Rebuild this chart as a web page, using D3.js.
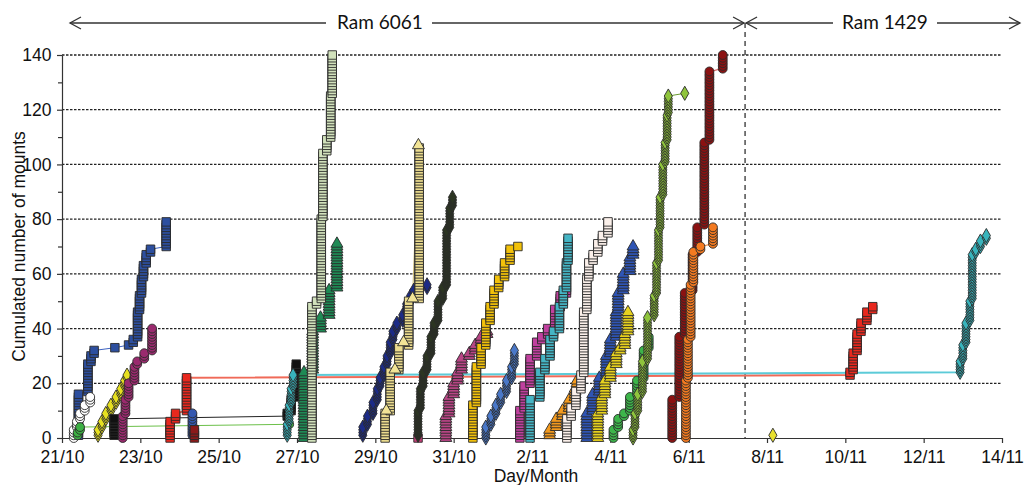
<!DOCTYPE html>
<html>
<head>
<meta charset="utf-8">
<script src="https://cdn.jsdelivr.net/npm/d3@7"></script>
<style>
body { margin: 0; background: #fff; }
svg { display: block; font-family: "Liberation Sans", Arial, sans-serif; }
</style>
</head>
<body>
<div id="chart"></div>
<script>
///// DATOS //////
// Cada tramo: [día, primera monta acumulada, última monta acumulada]; día 21 = 21/10, día 32 = 1/11
let blueSquares = [[21.42,1,16],[21.66,17,27],[21.74,28,30],[21.82,31,32],[22.35,33,33],[22.7,34,34],[22.82,35,36],[22.93,37,46],[22.98,47,52],[23.03,53,58],[23.08,59,63],[23.15,64,67],[23.26,68,69],[23.66,70,79]];
let whiteCircles = [[21.3,0,3],[21.38,4,6],[21.46,7,9],[21.58,10,12],[21.72,13,15]];
let greenCircles = [[21.4,1,2],[21.46,3,4],[26.8,5,5]];
let yellowDiamonds = [[21.92,1,3],[22.02,4,6],[22.12,7,9],[22.25,10,12],[22.38,13,15],[22.5,16,18],[22.6,19,21],[22.66,22,23]];
let blackSquares = [[22.33,1,7],[26.75,8,9],[26.85,10,14],[26.98,15,27]];
let plumCircles = [[22.55,0,8],[22.62,9,14],[22.7,15,20],[22.85,21,26],[22.92,27,28],[23.1,29,31],[23.3,32,40]];
let redSquares = [[23.76,0,6],[23.9,7,9],[24.18,10,22],[41.12,23,24],[41.2,25,31],[41.3,32,38],[41.4,39,42],[41.55,43,46],[41.7,47,48]];
let blueCircles = [[24.33,1,9]];
let darkRedSquares = [[24.38,0,3]];
let cyanDiamonds = [[26.75,1,5],[26.8,6,12],[26.85,13,18],[26.9,19,23],[43.93,24,28],[44.0,29,34],[44.08,35,42],[44.18,43,50],[44.24,51,67],[44.33,68,69],[44.45,70,72],[44.6,73,74]];
let sageSquares = [[27.38,0,48],[27.5,49,50],[27.62,51,80],[27.66,81,104],[27.76,105,109],[27.86,110,125],[27.9,126,140]];
let seaGreenTriangles = [[27.18,0,24],[27.4,25,39],[27.6,40,44],[27.82,45,54],[28.02,55,71]];
let navyDiamonds = [[28.68,1,4],[28.8,5,8],[28.94,9,13],[29.05,14,18],[29.12,19,22],[29.22,23,26],[29.3,27,30],[29.38,31,35],[29.45,36,39],[29.55,40,42],[29.7,43,45],[29.8,46,49],[29.9,50,52],[29.98,53,54],[30.32,55,56]];
let khakiSquares = [[29.25,0,9],[29.38,10,24],[29.6,25,33],[29.85,34,50],[30.12,51,106]];
let khakiTriangles = [[29.28,10,10],[29.5,25,25],[29.72,35,35],[29.95,51,51],[30.1,107,107]];
let pinkSquare = [[30.09,0,0]];
let oliveDiamonds = [[30.09,1,10],[30.15,11,18],[30.22,19,24],[30.32,25,30],[30.42,31,37],[30.5,38,42],[30.6,43,50],[30.72,51,55],[30.82,56,76],[30.9,77,84],[30.97,85,88]];
let magentaTriangles = [[30.8,0,8],[30.88,9,15],[31.0,16,20],[31.1,21,24],[31.2,25,29],[31.4,30,31],[31.55,32,34],[31.7,35,37],[31.85,38,39]];
let goldSquares = [[31.49,0,12],[31.58,13,26],[31.7,27,33],[31.82,34,42],[31.93,43,48],[32.03,49,54],[32.15,55,58],[32.3,59,64],[32.44,65,69],[32.64,70,70]];
let blueDiamonds = [[31.82,0,4],[31.95,5,8],[32.08,9,12],[32.2,13,16],[32.35,17,21],[32.48,22,26],[32.55,27,32]];
let magentaSquares = [[32.69,0,10],[32.8,11,19],[32.95,20,29],[33.12,30,35],[33.25,36,37],[33.4,38,40],[33.58,41,47],[33.72,48,52],[33.88,53,54]];
let tealSquares = [[32.95,0,14],[33.2,15,24],[33.33,25,29],[33.46,30,36],[33.55,37,39],[33.7,40,48],[33.8,49,54],[33.88,55,64],[33.92,65,73]];
let orangeTriangles = [[33.45,1,3],[33.62,4,7],[33.78,8,10],[33.95,11,14],[34.1,15,18],[34.15,19,21]];
let paleSquares = [[33.89,0,7],[34.0,8,11],[34.12,12,17],[34.25,18,23],[34.32,24,46],[34.4,47,58],[34.45,59,64],[34.56,65,67],[34.68,68,71],[34.8,72,74],[34.94,75,79]];
let blueTriangles = [[34.4,0,9],[34.55,10,16],[34.72,17,22],[34.9,23,30],[35.0,31,36],[35.15,37,46],[35.2,47,53],[35.33,54,60],[35.5,61,66],[35.58,67,70]];
let yellowTriangles = [[34.68,0,9],[34.78,10,15],[34.86,16,21],[35.0,22,26],[35.15,27,31],[35.25,32,33],[35.37,34,38],[35.45,39,46]];
let greenCircles2 = [[35.08,0,3],[35.2,4,7],[35.35,8,9],[35.5,10,15],[35.68,16,21],[35.85,22,32],[35.98,33,37]];
let limeDiamonds = [[35.58,0,3],[35.63,4,9],[35.7,10,16],[35.82,17,28],[35.95,29,44],[36.12,45,52],[36.18,53,64],[36.23,65,76],[36.27,77,88],[36.34,89,100],[36.4,101,108],[36.45,109,118],[36.48,119,125],[36.9,126,126]];
let darkRedCircles = [[36.58,0,14],[36.76,15,37],[36.9,38,53],[37.1,54,67],[37.22,68,77],[37.4,78,108],[37.53,109,134],[37.87,135,140]];
let orangeCircles = [[36.93,0,21],[36.98,22,36],[37.05,37,56],[37.12,57,68],[37.3,69,70],[37.62,71,77]];
let yellowDiamond2 = [[39.15,1,1]];

let dayTicks = [21,23,25,27,29,31,33,35,37,39,41,43,45];
let dayLabels = ['21/10','23/10','25/10','27/10','29/10','31/10','2/11','4/11','6/11','8/11','10/11','12/11','14/11'];
let countTicks = [0,20,40,60,80,100,120,140];
let countMinor = [10,30,50,70,90,110,130];
let ramNames = ['Ram 6061','Ram 1429'];
let ramChange = 38.44;

///// ESTILOS //////
let series = [
    {runs: blueSquares, shape: 'square', fill: '#2d4f9f', line: '#3d62c0'},
    {runs: whiteCircles, shape: 'circle', fill: '#ffffff', line: '#888'},
    {runs: greenCircles, shape: 'circle', fill: '#3cb043', line: '#6cc04a'},
    {runs: yellowDiamonds, shape: 'diamond', fill: '#e6e020', line: '#cccc30'},
    {runs: blackSquares, shape: 'square', fill: '#111111', line: '#222'},
    {runs: plumCircles, shape: 'circle', fill: '#9a2a6e', line: '#9a2a6e'},
    {runs: redSquares, shape: 'square', fill: '#e8281e', line: '#f06a58', width: 2},
    {runs: blueCircles, shape: 'circle', fill: '#3458b0', line: '#3458b0'},
    {runs: darkRedSquares, shape: 'square', fill: '#8a1a1a', line: '#8a1a1a'},
    {runs: cyanDiamonds, shape: 'diamond', fill: '#38b4bc', line: '#5ccbd8', width: 2},
    {runs: seaGreenTriangles, shape: 'triangle', fill: '#1f8a55', line: '#1f8a55'},
    {runs: sageSquares, shape: 'square', fill: '#d2e2bc', line: '#9ab08a'},
    {runs: navyDiamonds, shape: 'diamond', fill: '#1c2b86', line: '#1c2b86'},
    {runs: khakiSquares, shape: 'square', fill: '#ecdc8e', line: '#c8b870'},
    {runs: khakiTriangles, shape: 'triangle', fill: '#f2e496', line: '#c8b870'},
    {runs: pinkSquare, shape: 'square', fill: '#c8407a', line: '#c8407a'},
    {runs: oliveDiamonds, shape: 'diamond', fill: '#2c3522', line: '#2c3522'},
    {runs: magentaTriangles, shape: 'triangle', fill: '#b84585', line: '#b84585'},
    {runs: goldSquares, shape: 'square', fill: '#f2c10a', line: '#d0a010'},
    {runs: blueDiamonds, shape: 'diamond', fill: '#4a78c8', line: '#4a78c8'},
    {runs: magentaSquares, shape: 'square', fill: '#c0409e', line: '#c0409e'},
    {runs: tealSquares, shape: 'square', fill: '#45b5c5', line: '#45b5c5'},
    {runs: orangeTriangles, shape: 'triangle', fill: '#f39a1e', line: '#f39a1e'},
    {runs: paleSquares, shape: 'square', fill: '#fbf0ea', line: '#aaa'},
    {runs: blueTriangles, shape: 'triangle', fill: '#2f55b5', line: '#2f55b5'},
    {runs: yellowTriangles, shape: 'triangle', fill: '#e8d21e', line: '#d0c020'},
    {runs: greenCircles2, shape: 'circle', fill: '#3db54a', line: '#3db54a'},
    {runs: limeDiamonds, shape: 'diamond', fill: '#8fc43c', line: '#6a9a30'},
    {runs: darkRedCircles, shape: 'circle', fill: '#8b1212', line: '#d04040'},
    {runs: orangeCircles, shape: 'circle', fill: '#f47a20', line: '#f47a20'},
    {runs: yellowDiamond2, shape: 'diamond', fill: '#e8e030', line: '#e8e030'}
];

let symbols = {
    square: d3.symbol().type(d3.symbolSquare).size(72),
    circle: d3.symbol().type(d3.symbolCircle).size(62),
    triangle: d3.symbol().type(d3.symbolTriangle).size(62),
    diamond: d3.symbol().type(d3.symbolDiamond).size(58)
};

///// GRÁFICO //////
let W = 1036, H = 485;
let margin = {top: 55, right: 34, bottom: 47, left: 62};
let fontFamily = '"Liberation Sans", Arial, sans-serif';

let svg = d3.select('#chart').append('svg').attr('width', W).attr('height', H);

let x = d3.scaleLinear().domain([21, 45]).range([margin.left, W - margin.right]);
let y = d3.scaleLinear().domain([0, 140]).range([H - margin.bottom, margin.top]);

//Rejilla
svg.append('g').selectAll('line')
    .data(countTicks.slice(1))
    .enter().append('line')
    .attr('x1', x(21)).attr('x2', x(45))
    .attr('y1', d => y(d)).attr('y2', d => y(d))
    .attr('stroke', '#222').attr('stroke-width', 1.3).attr('stroke-dasharray', '2.5,1.5');

//Ejes
let xAxis = svg.append('g')
    .attr('transform', 'translate(0,' + y(0) + ')')
    .call(d3.axisBottom(x).tickValues(dayTicks).tickFormat((d, i) => dayLabels[i]).tickSize(5).tickSizeOuter(0));
xAxis.attr('font-family', fontFamily);
xAxis.selectAll('text').attr('font-size', 17.5).attr('fill', '#111').attr('dy', '0.95em');

let yAxis = svg.append('g')
    .attr('transform', 'translate(' + x(21) + ',0)')
    .call(d3.axisLeft(y).tickValues(countTicks).tickSize(5).tickSizeOuter(0));
yAxis.attr('font-family', fontFamily);
yAxis.selectAll('text').attr('font-size', 17.5).attr('fill', '#111').attr('dx', '-0.15em');

svg.append('g')
    .attr('transform', 'translate(' + x(21) + ',0)')
    .call(d3.axisLeft(y).tickValues(countMinor).tickSize(4).tickFormat(''))
    .select('.domain').remove();

svg.selectAll('.domain, .tick line').attr('stroke', '#333').attr('stroke-width', 1.2);

//Títulos de ejes
svg.append('text')
    .attr('transform', 'translate(25,' + ((y(0) + y(140)) / 2) + ') rotate(-90)')
    .attr('text-anchor', 'middle').attr('font-size', 17.5).attr('fill', '#111')
    .text('Cumulated number of mounts');

svg.append('text')
    .attr('x', 536).attr('y', 482)
    .attr('text-anchor', 'middle').attr('font-size', 17.5).attr('fill', '#111')
    .text('Day/Month');

//Línea de cambio de macho
svg.append('line')
    .attr('x1', x(ramChange)).attr('x2', x(ramChange))
    .attr('y1', 23).attr('y2', y(0))
    .attr('stroke', '#333').attr('stroke-width', 1.3).attr('stroke-dasharray', '5,4');

//Flechas superiores
let arrowY = 23;
let arrowColor = '#333';
function arrowHead(px, dir) {
    svg.append('path')
        .attr('d', 'M' + (px - dir * 11) + ',' + (arrowY - 6) + 'L' + px + ',' + arrowY + 'L' + (px - dir * 11) + ',' + (arrowY + 6))
        .attr('fill', 'none').attr('stroke', arrowColor).attr('stroke-width', 1.3);
}
let ramSegments = [
    {from: 70, to: 326, head: -1, at: 70},
    {from: 432, to: x(ramChange) - 1, head: 1, at: x(ramChange) - 1},
    {from: x(ramChange) + 1, to: 833, head: -1, at: x(ramChange) + 1},
    {from: 937, to: 1020, head: 1, at: 1020}
];
ramSegments.forEach(s => {
    svg.append('line').attr('x1', s.from).attr('x2', s.to).attr('y1', arrowY).attr('y2', arrowY)
        .attr('stroke', arrowColor).attr('stroke-width', 1.3);
    arrowHead(s.at, s.head);
});
svg.selectAll('.ram').data(ramNames).enter().append('text')
    .attr('x', (d, i) => i == 0 ? 380 : 885).attr('y', arrowY + 6)
    .attr('text-anchor', 'middle')
    .attr('font-family', 'Lato, "Open Sans", sans-serif').attr('font-size', 19).attr('fill', '#111')
    .text(d => d);

//Series: cada tramo se despliega en una marca por monta
let line = d3.line().x(d => x(d.day)).y(d => y(d.count));

series.forEach(s => {
    s.points = [];
    s.runs.forEach(r => {
        d3.range(r[1], r[2] + 1).forEach(c => s.points.push({day: r[0], count: c}));
    });
});

svg.append('g').selectAll('path')
    .data(series)
    .enter().append('path')
    .attr('fill', 'none')
    .attr('stroke', d => d.line)
    .attr('stroke-width', d => d.width || 1)
    .attr('d', d => line(d.points));

series.forEach(s => {
    svg.append('g').selectAll('path')
        .data(s.points)
        .enter().append('path')
        .attr('transform', d => 'translate(' + x(d.day) + ',' + y(d.count) + ')')
        .attr('d', symbols[s.shape]())
        .attr('fill', s.fill)
        .attr('stroke', '#2a2a2a')
        .attr('stroke-width', 0.9);
});
</script>
</body>
</html>
